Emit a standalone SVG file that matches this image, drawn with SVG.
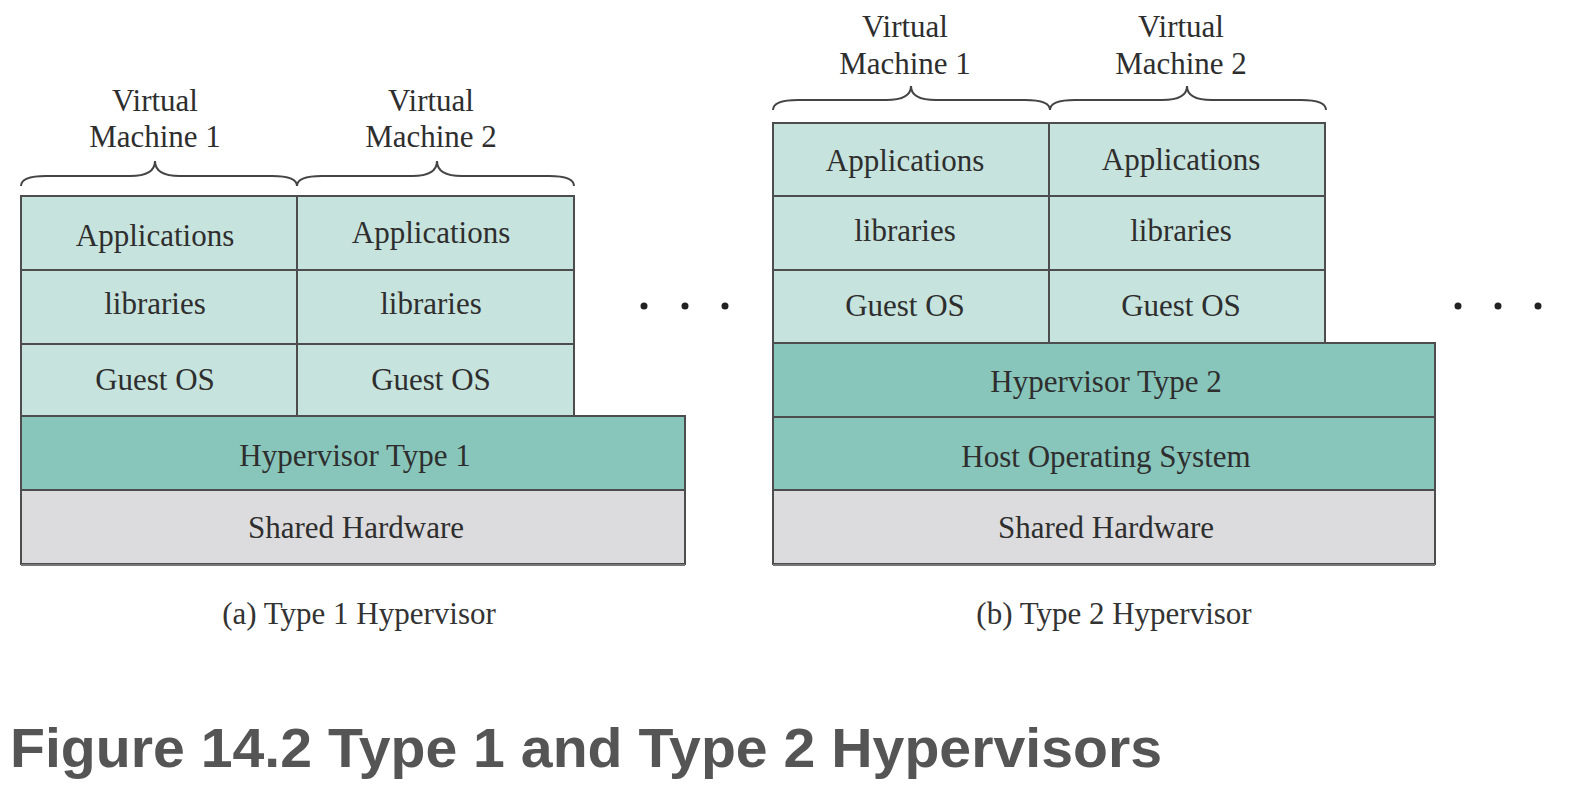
<svg xmlns="http://www.w3.org/2000/svg" width="1572" height="790" viewBox="0 0 1572 790">
  <style>
    .vm { fill: #c6e3dd; stroke: #4d4d4d; stroke-width: 2; }
    .hv { fill: #88c5bb; stroke: #4d4d4d; stroke-width: 2; }
    .hw { fill: #dcdcde; stroke: #4d4d4d; stroke-width: 2; }
    .lbl { font-family: "Liberation Serif", "Times New Roman", serif; font-size: 31px; fill: #2e2e2e; text-anchor: middle; }
    .cap { font-family: "Liberation Serif", "Times New Roman", serif; font-size: 31px; fill: #333; text-anchor: middle; }
    .brace { fill: none; stroke: #444; stroke-width: 2; }
    .dot { fill: #222; }
    .title { font-family: "Liberation Sans", Arial, sans-serif; font-weight: bold; font-size: 56px; fill: #555555; }
  </style>
  <rect width="1572" height="790" fill="#ffffff"/>

  <!-- (a) Type 1 hypervisor stack -->
  <g id="type1">
    <g id="t1-vm1-labels">
      <text class="lbl" x="155" y="111">Virtual</text>
      <text class="lbl" x="155" y="147">Machine 1</text>
    </g>
    <g id="t1-vm2-labels">
      <text class="lbl" x="431" y="111">Virtual</text>
      <text class="lbl" x="431" y="147">Machine 2</text>
    </g>
    <g id="t1-braces">
      <path class="brace" d="M21,186 Q21,176 46,176 L130,176 Q155,176 155,161 Q155,176 180,176 L272,176 Q297,176 297,186"/>
      <path class="brace" d="M297,186 Q297,176 322,176 L412,176 Q437,176 437,161 Q437,176 462,176 L549,176 Q574,176 574,186"/>
    </g>
    <g id="t1-vm1">
      <rect class="vm" x="21" y="196" width="276" height="74"/>
      <text class="lbl" x="155" y="246">Applications</text>
      <rect class="vm" x="21" y="270" width="276" height="74"/>
      <text class="lbl" x="155" y="314">libraries</text>
      <rect class="vm" x="21" y="344" width="276" height="72"/>
      <text class="lbl" x="155" y="390">Guest OS</text>
    </g>
    <g id="t1-vm2">
      <rect class="vm" x="297" y="196" width="277" height="74"/>
      <text class="lbl" x="431" y="243">Applications</text>
      <rect class="vm" x="297" y="270" width="277" height="74"/>
      <text class="lbl" x="431" y="314">libraries</text>
      <rect class="vm" x="297" y="344" width="277" height="72"/>
      <text class="lbl" x="431" y="390">Guest OS</text>
    </g>
    <g id="t1-hypervisor">
      <rect class="hv" x="21" y="416" width="664" height="74"/>
      <text class="lbl" x="355" y="466">Hypervisor Type 1</text>
    </g>
    <g id="t1-hardware">
      <rect class="hw" x="21" y="490" width="664" height="74"/>
      <line x1="21" y1="565" x2="685" y2="565" stroke="#777" stroke-width="2"/>
      <text class="lbl" x="356" y="538">Shared Hardware</text>
    </g>
    <g id="t1-more">
      <circle class="dot" cx="644" cy="306" r="3.5"/>
      <circle class="dot" cx="685" cy="306" r="3.5"/>
      <circle class="dot" cx="725" cy="306" r="3.5"/>
    </g>
    <text class="cap" x="359" y="624">(a) Type 1 Hypervisor</text>
  </g>

  <!-- (b) Type 2 hypervisor stack -->
  <g id="type2">
    <g id="t2-vm1-labels">
      <text class="lbl" x="905" y="37">Virtual</text>
      <text class="lbl" x="905" y="74">Machine 1</text>
    </g>
    <g id="t2-vm2-labels">
      <text class="lbl" x="1181" y="37">Virtual</text>
      <text class="lbl" x="1181" y="74">Machine 2</text>
    </g>
    <g id="t2-braces">
      <path class="brace" d="M773,110 Q773,100 798,100 L886,100 Q911,100 911,86 Q911,100 936,100 L1025,100 Q1050,100 1050,110"/>
      <path class="brace" d="M1050,110 Q1050,100 1075,100 L1162,100 Q1187,100 1187,86 Q1187,100 1212,100 L1301,100 Q1326,100 1326,110"/>
    </g>
    <g id="t2-vm1">
      <rect class="vm" x="773" y="123" width="276" height="73"/>
      <text class="lbl" x="905" y="171">Applications</text>
      <rect class="vm" x="773" y="196" width="276" height="74"/>
      <text class="lbl" x="905" y="241">libraries</text>
      <rect class="vm" x="773" y="270" width="276" height="73"/>
      <text class="lbl" x="905" y="316">Guest OS</text>
    </g>
    <g id="t2-vm2">
      <rect class="vm" x="1049" y="123" width="276" height="73"/>
      <text class="lbl" x="1181" y="170">Applications</text>
      <rect class="vm" x="1049" y="196" width="276" height="74"/>
      <text class="lbl" x="1181" y="241">libraries</text>
      <rect class="vm" x="1049" y="270" width="276" height="73"/>
      <text class="lbl" x="1181" y="316">Guest OS</text>
    </g>
    <g id="t2-hypervisor">
      <rect class="hv" x="773" y="343" width="662" height="74"/>
      <text class="lbl" x="1106" y="392">Hypervisor Type 2</text>
    </g>
    <g id="t2-host-os">
      <rect class="hv" x="773" y="417" width="662" height="73"/>
      <text class="lbl" x="1106" y="467">Host Operating System</text>
    </g>
    <g id="t2-hardware">
      <rect class="hw" x="773" y="490" width="662" height="74"/>
      <line x1="773" y1="565" x2="1435" y2="565" stroke="#777" stroke-width="2"/>
      <text class="lbl" x="1106" y="538">Shared Hardware</text>
    </g>
    <g id="t2-more">
      <circle class="dot" cx="1458" cy="306" r="3.5"/>
      <circle class="dot" cx="1498" cy="306" r="3.5"/>
      <circle class="dot" cx="1538" cy="306" r="3.5"/>
    </g>
    <text class="cap" x="1114" y="624">(b) Type 2 Hypervisor</text>
  </g>

  <text class="title" x="10" y="767" textLength="1152" lengthAdjust="spacingAndGlyphs">Figure 14.2 Type 1 and Type 2 Hypervisors</text>
</svg>
